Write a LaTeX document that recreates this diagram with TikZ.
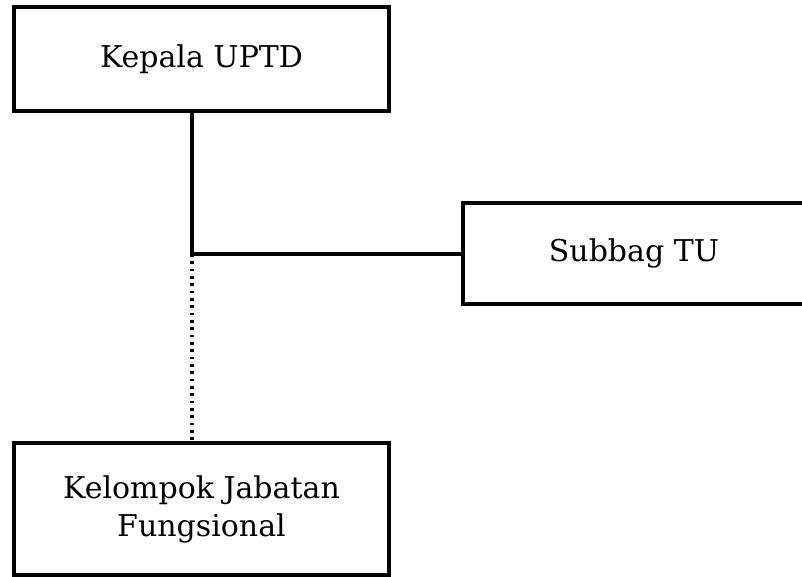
\documentclass[tikz,border=0pt]{standalone}
\usepackage{fontspec}
\setmainfont{DejaVu Serif}
\begin{document}
\begin{tikzpicture}[x=0.75pt,y=-0.75pt,
	kotak/.style={draw,line width=2.6pt,inner sep=0pt,align=center,font=\fontsize{22.5}{28.5}\selectfont}]%Bagan
				\useasboundingbox (0,0) rectangle (802,576);
				\path
				(201.5,59) coordinate (K)
				(634,253.5) coordinate (S)
				(201.5,509) coordinate (F)
				(192,254) coordinate (J);
				\node[kotak,minimum width=281pt,minimum height=78pt] (kepala) at (K) {Kepala UPTD};
				\node[kotak,minimum width=256.5pt,minimum height=75.75pt] (subbag) at (S) {Subbag TU};
				\node[kotak,minimum width=281pt,minimum height=99pt] (kelompok) at (F) {Kelompok Jabatan\\Fungsional};
				\draw[line width=2.6pt] (J |- kepala.south)--(J)--(subbag.west |- J);
				\draw[line width=2.6pt,dash pattern=on 2pt off 3.5pt] (J)--(J |- kelompok.north);
			\end{tikzpicture}
\end{document}
